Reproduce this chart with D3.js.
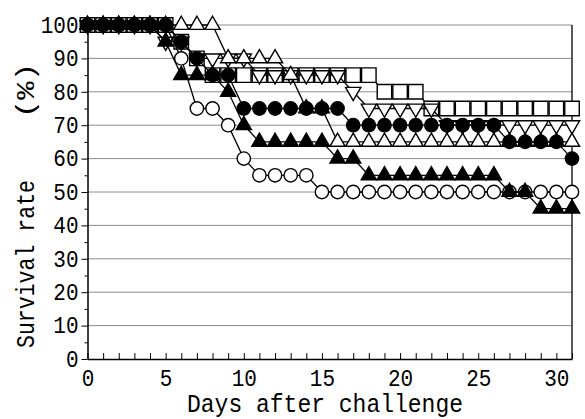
<!DOCTYPE html>
<html>
<head>
<meta charset="utf-8">
<script src="https://cdn.jsdelivr.net/npm/d3@7"></script>
<style>
  body { margin: 0; background: #fff; }
  svg { display: block; }
</style>
</head>
<body>
<svg id="chart" width="585" height="419"></svg>
<script>
// days after challenge (x categories)
const days = [0,1,2,3,4,5,6,7,8,9,10,11,12,13,14,15,16,17,18,19,20,21,22,23,24,25,26,27,28,29,30,31];

// survival rate (%) per group, one value per day
const squareOpen   = [100,100,100,100,100,100,95,90,85,85,85,85,85,85,85,85,85,85,85,80,80,80,75,75,75,75,75,75,75,75,75,75];
const triDownOpen  = [100,100,100,100,100,95,95,90,90,90,90,85,85,85,85,85,85,80,75,75,75,75,75,70,70,70,70,70,70,70,70,70];
const triUpOpen    = [100,100,100,100,100,100,100,100,100,90,90,90,90,85,75,75,65,65,65,65,65,65,65,65,65,65,65,65,65,65,65,65];
const circleOpen   = [100,100,100,100,100,100,90,75,75,70,60,55,55,55,55,50,50,50,50,50,50,50,50,50,50,50,50,50,50,50,50,50];
const triUpFilled  = [100,100,100,100,100,95,85,85,85,80,70,65,65,65,65,65,60,60,55,55,55,55,55,55,55,55,55,50,50,45,45,45];
const circleFilled = [100,100,100,100,100,100,95,90,85,85,75,75,75,75,75,75,75,70,70,70,70,70,70,70,70,70,70,65,65,65,65,60];

const yTicks = [0,10,20,30,40,50,60,70,80,90,100];
const xLabels = [0,5,10,15,20,25,30];

const fontMono = "'Liberation Mono', 'DejaVu Sans Mono', monospace";

const svg = d3.select("#chart");

const x = d3.scaleLinear().domain([0, 31]).range([87.5, 572]);
const y = d3.scaleLinear().domain([0, 100]).range([359, 25]);

// grid
svg.append("g")
   .selectAll("line")
   .data(yTicks.filter(d => d > 0))
   .join("line")
   .attr("x1", x(0)).attr("x2", x(31))
   .attr("y1", d => y(d)).attr("y2", d => y(d))
   .attr("stroke", "#8c8c8c")
   .attr("stroke-width", 1);

// right frame
svg.append("line")
   .attr("x1", x(31)).attr("x2", x(31))
   .attr("y1", y(100)).attr("y2", y(0))
   .attr("stroke", "#222")
   .attr("stroke-width", 1.5);

// y axis
const yAxis = svg.append("g")
   .attr("transform", `translate(${x(0)},0)`)
   .call(d3.axisLeft(y).tickValues(yTicks).tickSize(6).tickPadding(3).tickSizeOuter(0));

svg.append("g")
   .attr("transform", `translate(${x(0)},0)`)
   .call(d3.axisLeft(y).tickValues([5,15,25,35,45,55,65,75,85,95]).tickSize(3).tickFormat("").tickSizeOuter(0))
   .select(".domain").remove();

// x axis
const xAxis = svg.append("g")
   .attr("transform", `translate(0,${y(0)})`)
   .call(d3.axisBottom(x).tickValues(days).tickSize(-6).tickPadding(9).tickSizeOuter(0)
        .tickFormat(d => xLabels.includes(d) ? d : ""));

[yAxis, xAxis].forEach(g => {
  g.select(".domain").attr("stroke", "#000").attr("stroke-width", 1.5);
  g.selectAll(".tick line").attr("stroke", "#000").attr("stroke-width", 1);
  g.selectAll("text")
   .attr("fill", "#000")
   .style("font-family", fontMono)
   .style("font-size", "23px")
   .attr("textLength", function(){ return this.textContent.length * 12.6; })
   .attr("lengthAdjust", "spacingAndGlyphs");
});
xAxis.selectAll("text").attr("dy", "0.78em");

// axis titles
svg.append("text")
   .attr("x", 325).attr("y", 412)
   .attr("text-anchor", "middle")
   .attr("textLength", 276)
   .attr("lengthAdjust", "spacingAndGlyphs")
   .style("font-family", fontMono)
   .style("font-size", "25px")
   .text("Days after challenge");

svg.append("text")
   .attr("transform", "translate(34,348) rotate(-90)")
   .attr("textLength", 168)
   .attr("lengthAdjust", "spacingAndGlyphs")
   .style("font-family", fontMono)
   .style("font-size", "26px")
   .text("Survival rate");

svg.append("text")
   .attr("transform", "translate(34,118) rotate(-90)")
   .attr("textLength", 55)
   .attr("lengthAdjust", "spacingAndGlyphs")
   .style("font-family", fontMono)
   .style("font-size", "26px")
   .text("(%)");

// series, bottom to top
const series = [
  { values: squareOpen,   shape: d3.symbolSquare,   size: 210, fill: "#fff", rot: 0 },
  { values: triDownOpen,  shape: d3.symbolTriangle, size: 100, fill: "#fff", rot: 180 },
  { values: triUpOpen,    shape: d3.symbolTriangle, size: 100, fill: "#fff", rot: 0 },
  { values: circleOpen,   shape: d3.symbolCircle,   size: 140, fill: "#fff", rot: 0 },
  { values: triUpFilled,  shape: d3.symbolTriangle, size: 100, fill: "#000", rot: 0 },
  { values: circleFilled, shape: d3.symbolCircle,   size: 140, fill: "#000", rot: 0 }
];

const line = d3.line()
   .x((d, i) => x(days[i]))
   .y(d => y(d));

series.forEach(s => {
  const g = svg.append("g");
  g.append("path")
   .datum(s.values)
   .attr("d", line)
   .attr("fill", "none")
   .attr("stroke", "#000")
   .attr("stroke-width", 1.3);

  g.selectAll("path.mark")
   .data(s.values)
   .join("path")
   .attr("class", "mark")
   .attr("d", d3.symbol().type(s.shape).size(s.size))
   .attr("transform", (d, i) => `translate(${x(days[i])},${y(d)}) rotate(${s.rot})`)
   .attr("fill", s.fill)
   .attr("stroke", "#000")
   .attr("stroke-width", 1.4);
});
</script>
</body>
</html>
